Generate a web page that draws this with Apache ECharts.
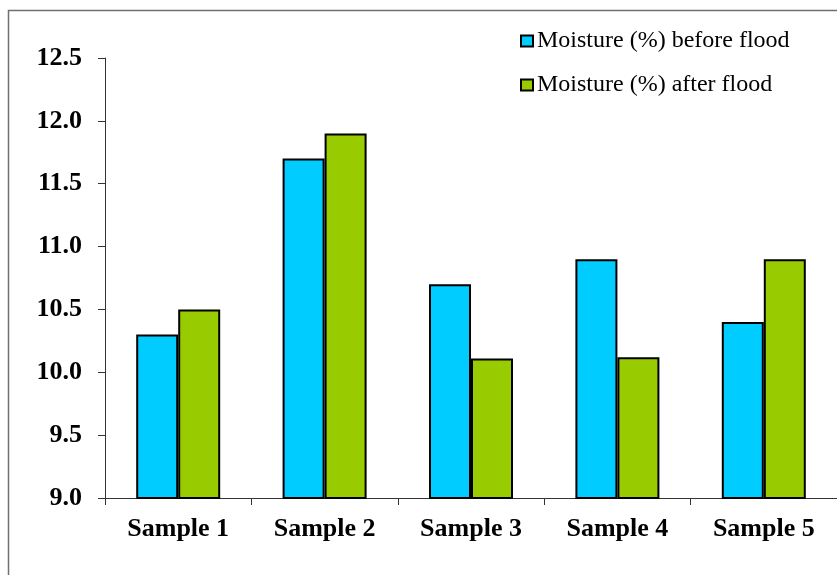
<!DOCTYPE html>
<html>
<head>
<meta charset="utf-8">
<script src="https://cdn.jsdelivr.net/npm/echarts@6/dist/echarts.min.js"></script>
<style>
  html, body { margin: 0; padding: 0; background: #fff; }
  #chart { width: 837px; height: 575px; }
</style>
</head>
<body>
<div id="chart"></div>
<script>
// Moisture content of five samples, measured before and after the flood
const categories = ['Sample 1', 'Sample 2', 'Sample 3', 'Sample 4', 'Sample 5'];
const beforeFlood = [10.3, 11.7, 10.7, 10.9, 10.4];
const afterFlood = [10.5, 11.9, 10.11, 10.12, 10.9];
const seriesNames = ['Moisture (%) before flood', 'Moisture (%) after flood'];
const yMin = 9.0, yMax = 12.5, yStep = 0.5;

const serif = '"Liberation Serif", "Times New Roman", serif';
const chart = echarts.init(document.getElementById('chart'), null, { renderer: 'canvas' });

chart.setOption({
  backgroundColor: '#ffffff',
  animation: false,
  graphic: [{
    type: 'rect',
    shape: { x: 8.5, y: 10.5, width: 900, height: 700 },
    style: { fill: 'none', stroke: '#707070', lineWidth: 1.5 },
    silent: true,
    z: -1
  }],
  legend: {
    orient: 'vertical',
    left: 515,
    top: 24,
    itemWidth: 12,
    itemHeight: 11,
    itemGap: 20,
    icon: 'rect',
    itemStyle: { borderColor: '#000', borderWidth: 2 },
    textStyle: { fontFamily: serif, fontSize: 24, color: '#000', lineHeight: 24, padding: [0, 0, 0, -1] },
    data: seriesNames
  },
  grid: { left: 105, top: 58, width: 733, bottom: 77, containLabel: false },
  xAxis: {
    type: 'category',
    data: categories,
    boundaryGap: true,
    axisLine: { lineStyle: { color: '#333', width: 1 } },
    axisTick: { show: true, length: 7, inside: false, lineStyle: { color: '#333' } },
    axisLabel: { fontFamily: serif, fontSize: 26, fontWeight: 'bold', color: '#000', margin: 18 },
    splitLine: { show: false }
  },
  yAxis: {
    type: 'value',
    min: yMin,
    max: yMax,
    interval: yStep,
    axisLine: { show: true, lineStyle: { color: '#333', width: 1 } },
    axisTick: { show: true, length: 7, lineStyle: { color: '#333' } },
    axisLabel: {
      fontFamily: serif, fontSize: 26, fontWeight: 'bold', color: '#000', margin: 23,
      formatter: v => v.toFixed(1)
    },
    splitLine: { show: false }
  },
  series: [
    {
      name: seriesNames[0],
      type: 'bar',
      data: beforeFlood,
      barWidth: 42,
      barGap: '0%',
      itemStyle: { color: '#00CCFF', borderColor: '#000', borderWidth: 2 }
    },
    {
      name: seriesNames[1],
      type: 'bar',
      data: afterFlood,
      barWidth: 42,
      barGap: '0%',
      itemStyle: { color: '#99CC00', borderColor: '#000', borderWidth: 2 }
    }
  ]
});
</script>
</body>
</html>
